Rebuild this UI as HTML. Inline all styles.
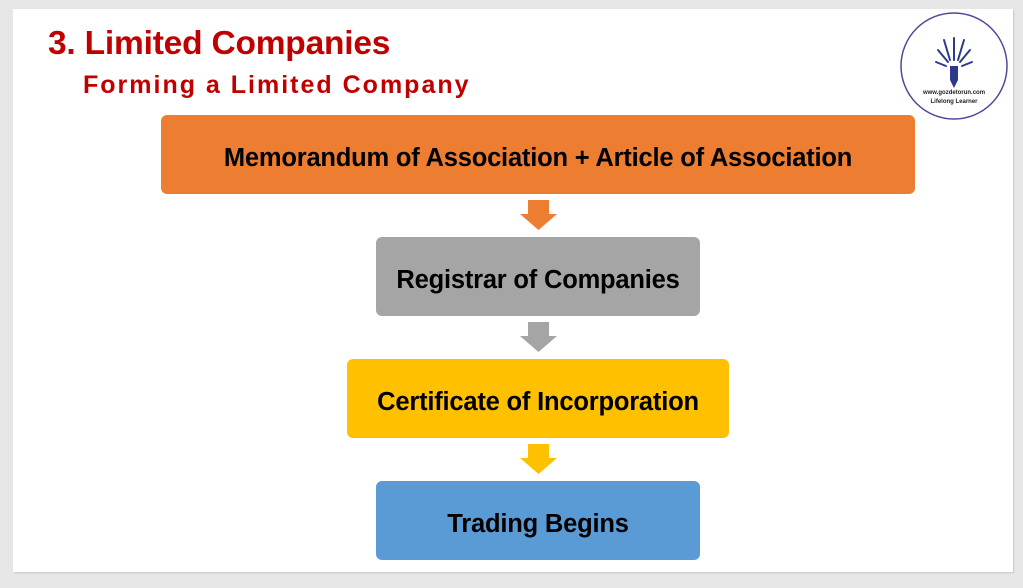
<!DOCTYPE html>
<html><head><style>
body{margin:0;width:1023px;height:588px;background:#e6e6e6;position:relative;overflow:hidden;font-family:"Liberation Sans",sans-serif}
.slide{position:absolute;left:13px;top:9px;width:1000px;height:563px;background:#fff;box-shadow:1px 1px 1px #c8c8c8}
.t1{position:absolute;left:48px;top:25px;font-size:33.5px;font-weight:bold;color:#c00000;letter-spacing:-0.2px}
.t2{position:absolute;left:83px;top:71px;font-size:25px;font-weight:bold;color:#c00000;letter-spacing:2px}
.box{position:absolute;border-radius:6px;display:flex;align-items:center;justify-content:center;font-weight:bold;font-size:25.5px;color:#000;padding-top:8px;box-sizing:border-box;letter-spacing:-0.2px}
svg.ar{position:absolute}
</style></head><body>
<div class="slide"></div>
<div class="t1">3. Limited Companies</div>
<div class="t2">Forming a Limited Company</div>
<svg style="position:absolute;left:898px;top:10px" width="112" height="112" viewBox="0 0 112 112">
<circle cx="56" cy="56" r="53" fill="#fff" stroke="#4a4a9a" stroke-width="1.5"/>
<g stroke="#2d3a8c" stroke-width="2" stroke-linecap="round">
<line x1="52" y1="50" x2="46" y2="30"/><line x1="56" y1="50" x2="56" y2="28"/><line x1="60" y1="50" x2="66" y2="30"/>
<line x1="50" y1="52" x2="40" y2="40"/><line x1="62" y1="52" x2="72" y2="40"/>
<line x1="48" y1="56" x2="38" y2="52"/><line x1="64" y1="56" x2="74" y2="52"/>
</g>
<rect x="52" y="56" width="8" height="14" fill="#2d3a8c"/><polygon points="52,70 60,70 56,78" fill="#2d3a8c"/>
<text x="56" y="84" font-size="6" font-weight="bold" text-anchor="middle" fill="#222" font-family="Liberation Sans">www.gozdetorun.com</text>
<text x="56" y="93" font-size="6" font-weight="bold" text-anchor="middle" fill="#222" font-family="Liberation Sans">Lifelong Learner</text>
</svg>
<div class="box" style="left:161px;top:115px;width:754px;height:79px;background:#ed7d31">Memorandum of Association + Article of Association</div>
<svg class="ar" style="left:520px;top:200px" width="37" height="30"><polygon points="8,0 29,0 29,14 37,14 18.5,30 0,14 8,14" fill="#ed7d31"/></svg>
<div class="box" style="left:376px;top:237px;width:324px;height:79px;background:#a5a5a5">Registrar of Companies</div>
<svg class="ar" style="left:520px;top:322px" width="37" height="30"><polygon points="8,0 29,0 29,14 37,14 18.5,30 0,14 8,14" fill="#a5a5a5"/></svg>
<div class="box" style="left:347px;top:359px;width:382px;height:79px;background:#ffc000">Certificate of Incorporation</div>
<svg class="ar" style="left:520px;top:444px" width="37" height="30"><polygon points="8,0 29,0 29,14 37,14 18.5,30 0,14 8,14" fill="#ffc000"/></svg>
<div class="box" style="left:376px;top:481px;width:324px;height:79px;background:#5b9bd5">Trading Begins</div>
</body></html>
